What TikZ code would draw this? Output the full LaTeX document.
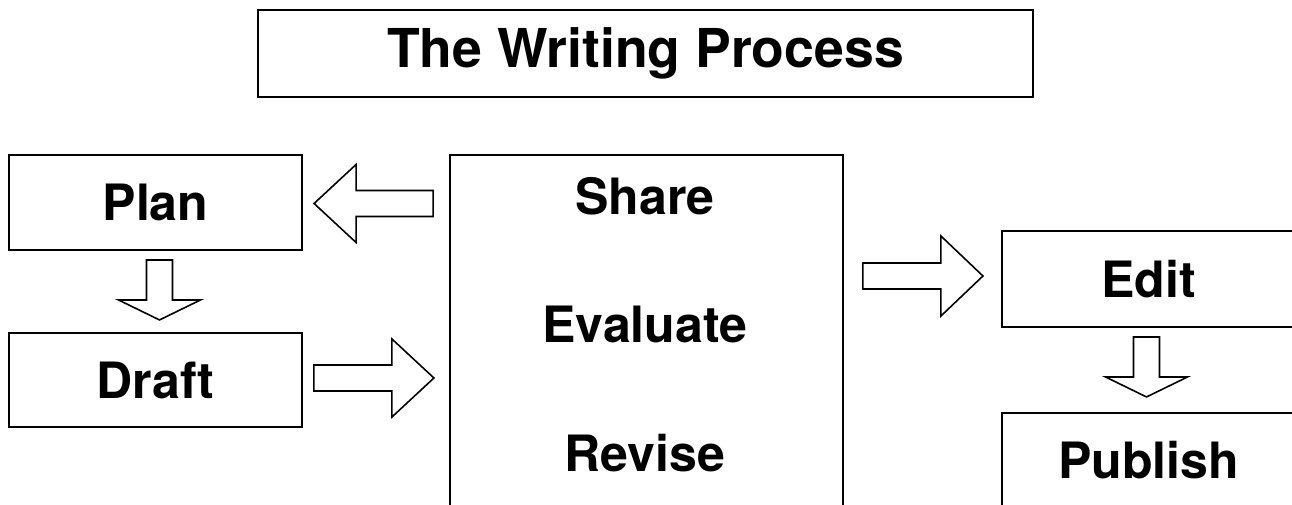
\documentclass[tikz,border=0pt]{standalone}
\usepackage{fontspec}
\setmainfont{TeX Gyre Heros}
\usetikzlibrary{calc}

\tikzset{
  stage/.style={draw=black, line width=1.1pt, inner sep=0pt,
                font=\fontsize{28.5}{30}\selectfont\bfseries},
  word/.style={inner sep=0pt, font=\fontsize{28.5}{30}\selectfont\bfseries},
  bigarrow/.style={draw=black, line width=0.9pt, line join=miter, fill=white}
}

% hollow block arrow: start, angle, length, head length, head half-width
\newcommand{\hollowarrow}[5]{%
  \draw[bigarrow, shift={(#1)}, rotate=#2]
    (0,-13) -- ({#3-#4},-13) -- ({#3-#4},-#5) -- (#3,0)
    -- ({#3-#4},#5) -- ({#3-#4},13) -- (0,13) -- cycle;
}

\begin{document}
\begin{tikzpicture}[x=0.02cm, y=-0.02cm]
  \useasboundingbox (0,0) rectangle (1292,504);
  \clip (0,0) rectangle (1292,504);

  % Title
  \node[stage, minimum width=15.5cm, minimum height=1.74cm,
        font=\fontsize{30.5}{32}\selectfont\bfseries] (title) at (645.5,53.5) {The Writing Process};

  % Left column
  \node[stage, minimum width=5.86cm, minimum height=1.9cm] (plan) at (155.5,202.5) {Plan};
  \node[stage, minimum width=5.86cm, minimum height=1.88cm] (draft) at (155.5,380) {Draft};

  % Middle box
  \node[stage, minimum width=7.86cm, minimum height=7.3cm] (review) at (646.5,337.5) {};
  \node[word] (share) at (645,196) {Share};
  \node[word] (evaluate) at (645,324) {Evaluate};
  \node[word] (revise) at (645,453) {Revise};

  % Right column
  \node[stage, minimum width=5.86cm, minimum height=1.92cm] (edit) at (1148.5,279) {Edit};
  \node[stage, minimum width=5.86cm, minimum height=1.88cm] (publish) at (1148.5,460) {Publish};

  % The arrows
  \coordinate (a1) at ($(review.west |- plan.east)+(-16,1)$);
  \coordinate (a2) at ($(draft.east)+(11,-2)$);
  \coordinate (a3) at ($(review.east |- edit.west)+(19,-3)$);
  \coordinate (a4) at ($(plan.south)+(4,9)$);
  \coordinate (a5) at ($(edit.south)+(-2,9)$);
  \hollowarrow{a1}{180}{119}{42}{39}
  \hollowarrow{a2}{0}{120}{42}{39}
  \hollowarrow{a3}{0}{120}{42}{40}
  \hollowarrow{a4}{-90}{60}{20}{41}
  \hollowarrow{a5}{-90}{60}{20}{41}
\end{tikzpicture}
\end{document}
